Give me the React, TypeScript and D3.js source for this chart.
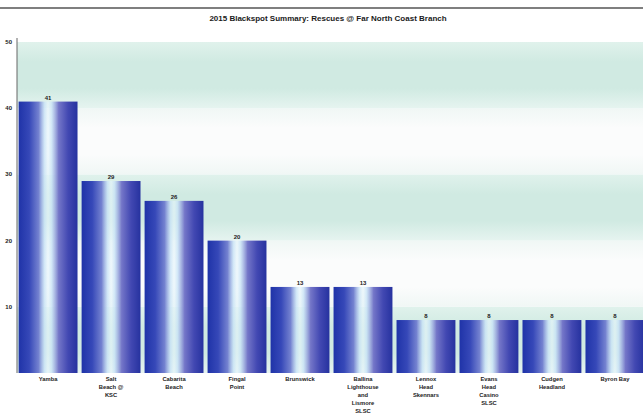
import React from "react";
import * as d3 from "d3";

const categories: string[][] = [
  ["Yamba"],
  ["Salt", "Beach @", "KSC"],
  ["Cabarita", "Beach"],
  ["Fingal", "Point"],
  ["Brunswick"],
  ["Ballina", "Lighthouse", "and", "Lismore", "SLSC"],
  ["Lennox", "Head", "Skennars"],
  ["Evans", "Head", "Casino", "SLSC"],
  ["Cudgen", "Headland"],
  ["Byron Bay"],
];
const values: number[] = [41, 29, 26, 20, 13, 13, 8, 8, 8, 8];
const yTicks: number[] = [10, 20, 30, 40, 50];
const title = "2015 Blackspot Summary: Rescues @ Far North Coast Branch";

const W = 643;
const H = 413;
const left = 17;
const right = 643;
const top = 42;
const bottom = 373;

export default function App() {
  const ids = categories.map((_, i) => String(i));
  const x = d3.scaleBand<string>().domain(ids).range([left + 1, right + 2]).paddingInner(0.065).paddingOuter(0.01);
  const y = d3.scaleLinear().domain([0, 50]).range([bottom, top]);
  const bands = d3.range(0, 50, 10);
  const font = "'Liberation Sans', Arial, sans-serif";
  return (
    <svg width={W} height={H} style={{ position: "absolute", left: 0, top: 0, background: "#fff" }}>
      <defs>
        <linearGradient id="barG" x1="0" x2="1" y1="0" y2="0">
          <stop offset="0%" stopColor="#1f33a8" />
          <stop offset="18%" stopColor="#3648b8" />
          <stop offset="34%" stopColor="#7482d0" />
          <stop offset="44%" stopColor="#c8e2f6" stopOpacity="0.8" />
          <stop offset="50%" stopColor="#e6f5fb" stopOpacity="0.6" />
          <stop offset="56%" stopColor="#c8e2f6" stopOpacity="0.8" />
          <stop offset="68%" stopColor="#7476c8" />
          <stop offset="84%" stopColor="#4248b2" />
          <stop offset="100%" stopColor="#26329f" />
        </linearGradient>
        <linearGradient id="bandG" x1="0" x2="0" y1="0" y2="1">
          <stop offset="0%" stopColor="#e0f2ec" />
          <stop offset="30%" stopColor="#d0eae2" />
          <stop offset="70%" stopColor="#d0eae2" />
          <stop offset="100%" stopColor="#e6f4f0" />
        </linearGradient>
        <linearGradient id="whiteG" x1="0" x2="0" y1="0" y2="1">
          <stop offset="0%" stopColor="#f0f7f5" />
          <stop offset="30%" stopColor="#fbfcfc" />
          <stop offset="70%" stopColor="#fbfcfc" />
          <stop offset="100%" stopColor="#f0f7f5" />
        </linearGradient>
      </defs>
      <line x1={0} x2={W} y1={8} y2={8} stroke="#555" strokeWidth={1.5} />
      <text x={328} y={21} textAnchor="middle" fontFamily={font} fontWeight="bold" fontSize={8} fill="#1a1a1a">
        {title}
      </text>
      {bands.map((b) => (
        <rect
          key={b}
          x={left}
          width={right - left}
          y={y(b + 10)}
          height={y(b) - y(b + 10)}
          fill={(b / 10) % 2 === 0 ? "url(#bandG)" : "url(#whiteG)"}
        />
      ))}
      <line x1={left} x2={left} y1={top - 4} y2={bottom} stroke="#666" strokeWidth={1} />
      {yTicks.map((t) => (
        <text key={t} x={12} y={y(t) + 2} textAnchor="end" fontFamily={font} fontWeight="bold" fontSize={6} fill="#222">
          {t}
        </text>
      ))}
      {values.map((v, i) => (
        <g key={i}>
          <rect x={x(ids[i])} y={y(v)} width={x.bandwidth()} height={y(0) - y(v)} fill="url(#barG)" />
          <text x={(x(ids[i]) as number) + x.bandwidth() / 2} y={y(v) - 2} textAnchor="middle" fontFamily={font} fontWeight="bold" fontSize={6} fill="#222">
            {v}
          </text>
          {categories[i].map((line, j) => (
            <text
              key={j}
              x={(x(ids[i]) as number) + x.bandwidth() / 2}
              y={bottom + 8 + j * 8}
              textAnchor="middle"
              fontFamily={font}
              fontWeight="bold"
              fontSize={5.8}
              fill="#222"
            >
              {line}
            </text>
          ))}
        </g>
      ))}
    </svg>
  );
}
